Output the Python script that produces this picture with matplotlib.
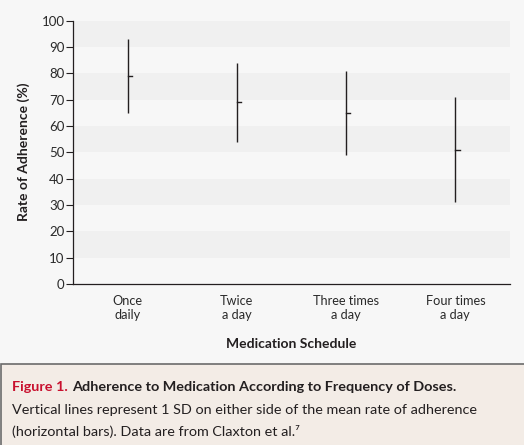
import numpy as np
import matplotlib
matplotlib.use("Agg")
import matplotlib.pyplot as plt
from matplotlib.patches import Rectangle

plt.rcParams['font.family'] = ['Lato', 'DejaVu Sans']

# data (Claxton et al.)
schedules = ["Once\ndaily", "Twice\na day", "Three times\na day", "Four times\na day"]
mean_adh = [79, 69, 65, 51]
sd_adh = [14, 15, 16, 20]

bg = '#f7f7f7'
band = '#f0f0f0'
ink = '#231f20'

W, H = 524, 445
fig = plt.figure(figsize=(W/100, H/100), dpi=100, facecolor=bg)
ax = fig.add_axes([73/W, 1-284/H, 437/W, (284-20.7)/H])
ax.set_facecolor(bg)

# alternating shaded bands
for lo in range(10, 100, 20):
    ax.axhspan(lo, lo+10, color=band, lw=0, zorder=0)

x = np.arange(len(schedules))
m = np.array(mean_adh)
s = np.array(sd_adh)
ax.vlines(x, m-s, m+s, color=ink, lw=1.0, zorder=3)
for xi, mi in zip(x, m):
    ax.plot([xi, xi+0.04], [mi, mi], color=ink, lw=1.0, zorder=3)

ax.set_xlim(-0.5, 3.5)
ax.set_ylim(0, 100)
ax.set_yticks(range(0, 101, 10))
ax.set_xticks(x)
ax.set_xticklabels(schedules, fontsize=9.2, color='#2a2a2a', linespacing=1.2)
ax.tick_params(axis='x', length=0, pad=8)
ax.tick_params(axis='y', length=5, width=0.8, color=ink, labelsize=9.5,
               labelcolor='#2a2a2a', pad=1)
for sp in ['top', 'right']:
    ax.spines[sp].set_visible(False)
for sp in ['left', 'bottom']:
    ax.spines[sp].set_color(ink)
    ax.spines[sp].set_linewidth(0.9)

ax.set_xlabel("Medication Schedule", fontsize=10, fontweight='bold',
              color=ink, labelpad=12)
fig.text(24/W, 1-152/H, "Rate of Adherence (%)", rotation=90, fontsize=10,
         fontweight='bold', color=ink, ha='center', va='center')

# caption box
fig.patches.append(Rectangle((1/W, -0.01), 1.0, (H-364)/H+0.01,
                             transform=fig.transFigure, facecolor='#f3ece6',
                             edgecolor='#6b6b6b', lw=1.2, zorder=0))

fs = 10.4
t1 = fig.text(12/W, 1-387/H, "Figure 1.", color='#c8102e', fontsize=fs,
              fontweight='bold', va='center')
fig.canvas.draw()
bb = t1.get_window_extent(fig.canvas.get_renderer())
fig.text(bb.x1/W + 4/W, 1-387/H,
         "Adherence to Medication According to Frequency of Doses.",
         color=ink, fontsize=fs, fontweight='bold', va='center')
fig.text(12/W, 1-410/H,
         "Vertical lines represent 1 SD on either side of the mean rate of adherence",
         color=ink, fontsize=fs, va='center')
fig.text(12/W, 1-431/H, "(horizontal bars). Data are from Claxton et al.\u2077",
         color=ink, fontsize=fs, va='center')

fig.savefig("out.png", dpi=100, facecolor=bg)
